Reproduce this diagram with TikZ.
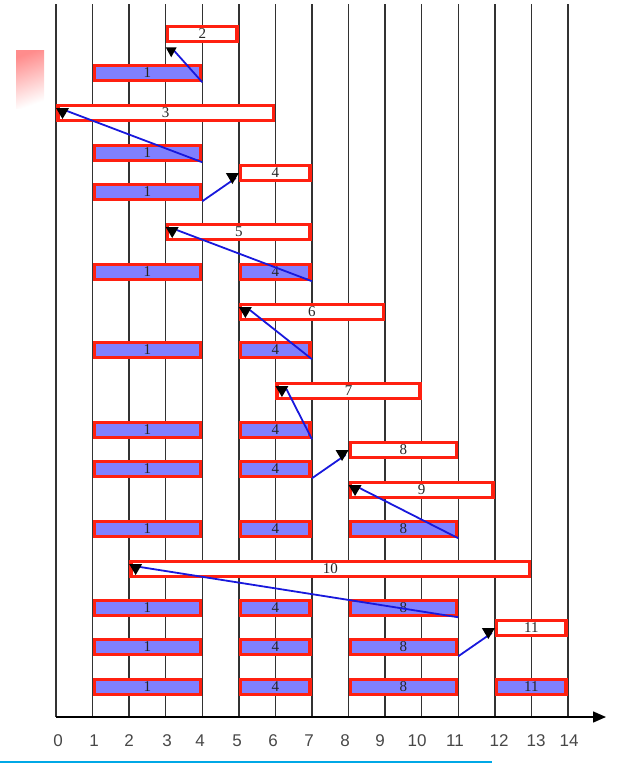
\documentclass[tikz,border=0pt]{standalone}
\usepackage{fontspec}
\setmainfont{Liberation Serif}
\newfontfamily\axisfont{Liberation Sans}
\usetikzlibrary{calc,arrows.meta}
\definecolor{barred}{RGB}{255,32,16}
\definecolor{barblue}{RGB}{128,128,255}
\definecolor{linkblue}{RGB}{24,24,220}
\definecolor{gridgray}{RGB}{50,50,50}
\definecolor{navcyan}{RGB}{0,168,230}
\newcommand\gbar[6]{\node[#6, minimum width={(#3-#2)*36.57pt-3.5pt}] (#1) at ({56+36.57*(#2+#3)/2},#4) {#5};}
\newcommand\linkleft[2]{%
  \draw[link] (#1.south east) -- ($(#2.west)+(11,-2)$);
  \fill[tipmark] ($(#2.west)+(0,-5)$) -- ($(#2.west)+(13,-5)$) -- ($(#2.west)+(6.5,6)$) -- cycle;}
\newcommand\linkright[2]{%
  \draw[link] (#1.south east) -- ($(#2.west)+(-3,5)$);
  \fill[tipmark] ($(#2.west)+(-13,0)$) -- ($(#2.west)+(0,0)$) -- ($(#2.west)+(-6.5,11)$) -- cycle;}
\begin{document}
\begin{tikzpicture}[x=1pt,y=-1pt,
  barbox/.style={draw=barred, line width=3.5pt, minimum height=15pt, inner sep=0pt,
    font=\fontsize{15}{15}\selectfont, text=black!85},
  busy/.style={barbox, fill=barblue},
  idle/.style={barbox, fill=white},
  gridline/.style={draw=gridgray, line width=1.5pt},
  link/.style={draw=linkblue, line width=1.8pt},
  tipmark/.style={fill=black},
  ticklabel/.style={font=\axisfont\fontsize{17}{17}\selectfont, text=black!72, inner sep=0pt}]
\useasboundingbox (0,0) rectangle (626,763);
% decorations from the screen
\shade[top color=red!45, bottom color=white, shading angle=20] (16,50) rectangle (44,108);
\draw[navcyan, line width=1.8pt] (0,762) -- (492,762);
% grid
\foreach \k in {0,...,14} \draw[gridline] ({56+36.57*\k},4) -- ({56+36.57*\k},717);
\coordinate (origin) at (56,717);
\coordinate (axisend) at (606,717);
\draw[line width=1.5pt, -{Triangle[length=13pt,width=11pt]}] (origin) -- (axisend);
\foreach \k/\xx in {0/58,1/94,2/129,3/167,4/200,5/237,6/273,7/309,8/345,9/380,10/417,11/455,12/499,13/536,14/569}
  \node[ticklabel] (t\k) at (\xx,741) {\k};
% bars
\gbar{wB}{3}{5}{34}{2}{idle}
\gbar{rA}{1}{4}{73}{1}{busy}
\gbar{wC}{0}{6}{113}{3}{idle}
\gbar{rB}{1}{4}{153}{1}{busy}
\gbar{wD}{5}{7}{173}{4}{idle}
\gbar{rC}{1}{4}{192}{1}{busy}
\gbar{wE}{3}{7}{232}{5}{idle}
\gbar{rDa}{1}{4}{272}{1}{busy}
\gbar{rDb}{5}{7}{272}{4}{busy}
\gbar{wF}{5}{9}{312}{6}{idle}
\gbar{rEa}{1}{4}{350}{1}{busy}
\gbar{rEb}{5}{7}{350}{4}{busy}
\gbar{wG}{6}{10}{391}{7}{idle}
\gbar{rFa}{1}{4}{430}{1}{busy}
\gbar{rFb}{5}{7}{430}{4}{busy}
\gbar{wH}{8}{11}{450}{8}{idle}
\gbar{rGa}{1}{4}{469}{1}{busy}
\gbar{rGb}{5}{7}{469}{4}{busy}
\gbar{wI}{8}{12}{490}{9}{idle}
\gbar{rHa}{1}{4}{529}{1}{busy}
\gbar{rHb}{5}{7}{529}{4}{busy}
\gbar{rHc}{8}{11}{529}{8}{busy}
\gbar{wJ}{2}{13}{569}{10}{idle}
\gbar{rIa}{1}{4}{608}{1}{busy}
\gbar{rIb}{5}{7}{608}{4}{busy}
\gbar{rIc}{8}{11}{608}{8}{busy}
\gbar{wK}{12}{14}{628}{11}{idle}
\gbar{rJa}{1}{4}{647}{1}{busy}
\gbar{rJb}{5}{7}{647}{4}{busy}
\gbar{rJc}{8}{11}{647}{8}{busy}
\gbar{rKa}{1}{4}{687}{1}{busy}
\gbar{rKb}{5}{7}{687}{4}{busy}
\gbar{rKc}{8}{11}{687}{8}{busy}
\gbar{rKd}{12}{14}{687}{11}{busy}
% connectors
\draw[link] (rA.south east) -- ($(wB.south west)+(8,7)$);
\fill[tipmark] ($(wB.south west)+(0,4)$) -- ($(wB.south west)+(11,4)$) -- ($(wB.south west)+(5.5,14)$) -- cycle;
\linkleft{rB}{wC}
\linkright{rC}{wD}
\linkleft{rDb}{wE}
\linkleft{rEb}{wF}
\linkleft{rFb}{wG}
\linkright{rGb}{wH}
\linkleft{rHc}{wI}
\linkleft{rIc}{wJ}
\linkright{rJc}{wK}
\end{tikzpicture}
\end{document}
